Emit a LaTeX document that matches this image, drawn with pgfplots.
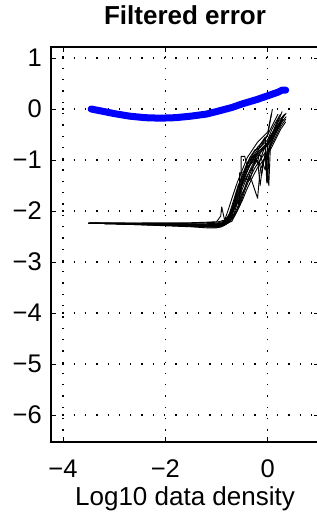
\documentclass[border=0pt]{standalone}
\usepackage{fontspec}
\setmainfont{Liberation Sans}
\usepackage{pgfplots}
\pgfplotsset{compat=1.18}
\begin{document}
\begin{tikzpicture}
\clip (0,0) rectangle (317bp,516bp);
\path[use as bounding box] (0,0) rectangle (317bp,516bp);
\begin{axis}[
  scale only axis,
  width=268bp, height=395bp,
  at={(51bp,74bp)}, anchor=south west,
  xmin=-4.234, xmax=1.0,
  ymin=-6.53, ymax=1.216,
  xtick={-4,-2,0},
  xticklabels={−4,−2,0},
  ytick={-6,-5,-4,-3,-2,-1,0,1},
  yticklabels={−6,−5,−4,−3,−2,−1,0,1},
  tick align=inside,
  major tick length=5bp,
  tick style={black, line width=0.8bp},
  axis line style={black, line width=1.5bp},
  grid=major,
  major grid style={black, line width=1.3bp, dash pattern=on 1.3bp off 10bp},
  ticklabel style={font=\fontsize{25.5bp}{30bp}\selectfont},
  xticklabel style={anchor=base, yshift=-35bp, inner sep=0pt},
  yticklabel style={anchor=east, inner sep=0pt, xshift=-9bp},
  title={\bfseries Filtered error},
  title style={font=\fontsize{26bp}{31bp}\selectfont, at={(0.5,1)}, anchor=base, yshift=17bp},
  xlabel={Log10 data density},
  xlabel style={font=\fontsize{26bp}{31bp}\selectfont, at={(0.5,0)}, anchor=base, yshift=-63bp},
  every axis plot/.append style={line join=round},
]
% black noisy curves
\addplot[black, line width=0.9bp] coordinates {(-3.5,-2.24) (-3,-2.24) (-2.5,-2.25) (-2,-2.26) (-1.5,-2.27) (-1.1,-2.28) (-0.9,-2.25) (-0.78,-2.15) (-0.7,-1.95) (-0.6,-1.6) (-0.5,-1.3) (-0.4,-1.05) (-0.3,-0.9) (-0.2,-0.75) (-0.1,-0.65) (0,-0.5) (0.09,0.0)};
\addplot[black, line width=0.9bp] coordinates {(-3.5,-2.24) (-3,-2.245) (-2.5,-2.26) (-2,-2.27) (-1.5,-2.28) (-1.1,-2.3) (-0.9,-2.27) (-0.75,-2.18) (-0.68,-2.0) (-0.6,-1.75) (-0.5,-1.45) (-0.4,-1.2) (-0.3,-0.95) (-0.2,-0.8) (-0.1,-0.7) (0,-0.6) (0.1,-0.45) (0.2,-0.3) (0.36,-0.08)};
\addplot[black, line width=0.9bp] coordinates {(-3.5,-2.24) (-3,-2.25) (-2.5,-2.25) (-2,-2.27) (-1.5,-2.29) (-1.2,-2.31) (-1.0,-2.32) (-0.85,-2.28) (-0.75,-2.2) (-0.66,-2.05) (-0.58,-1.8) (-0.55,-1.9) (-0.55,-1.25) (-0.45,-1.25) (-0.4,-1.1) (-0.3,-0.95) (-0.2,-0.85) (-0.1,-0.75) (0,-0.65) (0.1,-0.5) (0.3,-0.2)};
\addplot[black, line width=0.9bp] coordinates {(-3.5,-2.24) (-3,-2.235) (-2.5,-2.235) (-2,-2.23) (-1.5,-2.23) (-1.2,-2.22) (-1.0,-2.21) (-0.92,-2.1) (-0.9,-1.92) (-0.85,-2.15) (-0.75,-2.12) (-0.65,-1.9) (-0.55,-1.6) (-0.45,-1.35) (-0.35,-1.1) (-0.25,-0.9) (-0.15,-0.8) (-0.05,-0.75) (-0.02,-1.45) (0.02,-0.8) (0.1,-0.6) (0.2,-0.4) (0.3,-0.2)};
\addplot[black, line width=0.9bp] coordinates {(-3.5,-2.24) (-3,-2.25) (-2.5,-2.27) (-2,-2.28) (-1.5,-2.3) (-1.2,-2.3) (-1.0,-2.29) (-0.85,-2.27) (-0.7,-2.2) (-0.6,-2.0) (-0.5,-1.7) (-0.4,-1.4) (-0.3,-1.15) (-0.2,-0.95) (-0.1,-0.8) (0,-0.65) (0.1,-0.45) (0.2,-0.25) (0.33,-0.1)};
\addplot[black, line width=0.9bp] coordinates {(-3.5,-2.24) (-3,-2.24) (-2.5,-2.24) (-2,-2.25) (-1.5,-2.25) (-1.2,-2.25) (-1.0,-2.24) (-0.85,-2.2) (-0.78,-2.0) (-0.7,-1.75) (-0.6,-1.45) (-0.5,-1.2) (-0.4,-0.95) (-0.3,-0.8) (-0.2,-0.65) (-0.1,-0.55) (0,-0.45) (0.07,-0.1)};
\addplot[black, line width=0.9bp] coordinates {(-3.5,-2.24) (-3,-2.25) (-2.5,-2.26) (-2,-2.28) (-1.5,-2.29) (-1.2,-2.29) (-1.0,-2.27) (-0.85,-2.24) (-0.72,-2.1) (-0.6,-1.6) (-0.5,-1.35) (-0.35,-1.4) (-0.25,-1.0) (-0.15,-0.9) (-0.05,-1.2) (0,-0.7) (0.1,-0.55) (0.25,-0.3)};
\addplot[black, line width=0.9bp] coordinates {(-3.5,-2.24) (-3,-2.24) (-2.5,-2.25) (-2,-2.26) (-1.5,-2.26) (-1.2,-2.27) (-1.0,-2.26) (-0.85,-2.24) (-0.7,-2.1) (-0.62,-1.85) (-0.5,-1.5) (-0.4,-1.3) (-0.3,-1.15) (-0.2,-1.0) (-0.15,-1.5) (-0.1,-1.1) (-0.05,-0.9) (0,-1.45) (0.03,-0.6) (0.12,-0.4) (0.22,-0.15)};
\addplot[black, line width=0.9bp] coordinates {(-3.5,-2.24) (-3,-2.245) (-2.5,-2.25) (-2,-2.27) (-1.5,-2.29) (-1.2,-2.3) (-1.0,-2.3) (-0.85,-2.26) (-0.74,-2.15) (-0.65,-1.95) (-0.55,-1.75) (-0.45,-1.55) (-0.35,-1.3) (-0.25,-1.6) (-0.2,-1.75) (-0.15,-1.2) (-0.05,-0.95) (0.05,-0.7) (0.15,-0.45) (0.3,-0.15)};
\addplot[black, line width=0.9bp] coordinates {(-3.5,-2.24) (-3,-2.24) (-2.5,-2.24) (-2,-2.26) (-1.5,-2.27) (-1.2,-2.28) (-1.0,-2.28) (-0.85,-2.25) (-0.75,-2.15) (-0.65,-1.9) (-0.6,-1.6) (-0.55,-1.7) (-0.45,-1.2) (-0.35,-0.95) (-0.25,-0.8) (-0.15,-0.75) (-0.05,-0.6) (0.05,-0.4) (0.15,-0.2) (0.2,-0.1)};
\addplot[black, line width=0.9bp] coordinates {(-3.5,-2.24) (-3,-2.25) (-2.5,-2.26) (-2,-2.27) (-1.5,-2.28) (-1.2,-2.29) (-1.0,-2.28) (-0.85,-2.25) (-0.72,-2.05) (-0.62,-1.7) (-0.5,-1.4) (-0.4,-1.15) (-0.3,-1.0) (-0.2,-0.85) (-0.12,-1.3) (-0.05,-0.85) (0,-1.0) (0.05,-0.65) (0.15,-0.45) (0.28,-0.25) (0.36,-0.15)};
\addplot[black, line width=0.9bp] coordinates {(-3.5,-2.24) (-3,-2.24) (-2.5,-2.25) (-2,-2.25) (-1.5,-2.26) (-1.2,-2.26) (-1.0,-2.25) (-0.85,-2.22) (-0.75,-2.05) (-0.67,-1.8) (-0.58,-1.5) (-0.48,-1.3) (-0.38,-1.05) (-0.28,-0.9) (-0.18,-1.1) (-0.08,-0.8) (0,-0.7) (0.08,-0.5) (0.18,-0.35) (0.3,-0.15)};
\addplot[black, line width=0.9bp] coordinates {(-3.5,-2.24) (-3,-2.245) (-2.5,-2.26) (-2,-2.28) (-1.5,-2.3) (-1.2,-2.31) (-1.0,-2.31) (-0.85,-2.28) (-0.75,-2.22) (-0.65,-2.1) (-0.55,-1.9) (-0.45,-1.6) (-0.35,-1.35) (-0.25,-1.15) (-0.15,-1.0) (-0.05,-0.85) (0.02,-1.5) (0.05,-0.75) (0.15,-0.55) (0.25,-0.35) (0.35,-0.2)};
\addplot[black, line width=0.9bp] coordinates {(-3.5,-2.24) (-3,-2.24) (-2.5,-2.25) (-2,-2.26) (-1.5,-2.27) (-1.2,-2.28) (-1.0,-2.27) (-0.85,-2.24) (-0.76,-2.12) (-0.68,-1.9) (-0.6,-1.7) (-0.52,-1.5) (-0.42,-1.25) (-0.32,-1.05) (-0.22,-0.9) (-0.12,-0.8) (-0.02,-0.7) (0.08,-0.55) (0.18,-0.3) (0.28,-0.05)};
\addplot[black, line width=0.9bp] coordinates {(-3.5,-2.24) (-3,-2.25) (-2.5,-2.27) (-2,-2.29) (-1.5,-2.31) (-1.2,-2.33) (-1.0,-2.33) (-0.9,-2.31) (-0.8,-2.25) (-0.7,-2.15) (-0.6,-1.95) (-0.52,-1.72) (-0.52,-0.93) (-0.45,-0.93) (-0.4,-1.15) (-0.3,-1.05) (-0.2,-0.9) (-0.1,-0.8) (0,-0.7) (0.1,-0.55) (0.2,-0.35) (0.32,-0.12)};
\addplot[black, line width=0.9bp] coordinates {(-3.5,-2.24) (-3,-2.24) (-2.5,-2.245) (-2,-2.25) (-1.5,-2.24) (-1.2,-2.23) (-1.0,-2.22) (-0.85,-2.18) (-0.75,-2.1) (-0.65,-1.95) (-0.55,-1.7) (-0.45,-1.45) (-0.35,-1.2) (-0.25,-1.0) (-0.15,-0.7) (-0.05,-0.55) (-0.02,-1.3) (0.0,-0.6) (0.08,-0.4) (0.16,-0.25) (0.25,-0.1)};
\addplot[black, line width=0.9bp] coordinates {(-3.5,-2.24) (-3,-2.25) (-2.5,-2.26) (-2,-2.28) (-1.5,-2.29) (-1.2,-2.3) (-1.0,-2.3) (-0.88,-2.28) (-0.78,-2.22) (-0.68,-2.12) (-0.6,-2.0) (-0.5,-1.8) (-0.42,-1.6) (-0.35,-1.45) (-0.28,-1.3) (-0.2,-1.15) (-0.12,-1.05) (-0.05,-0.95) (0.05,-0.8) (0.15,-0.6) (0.25,-0.4) (0.35,-0.25)};
% blue curve
\addplot[blue, line width=7bp, line cap=round, line join=round] coordinates {(-3.45,0.0) (-3.2,-0.05) (-3.0,-0.09) (-2.7,-0.14) (-2.4,-0.17) (-2.1,-0.18) (-1.8,-0.17) (-1.5,-0.14) (-1.2,-0.10) (-1.0,-0.05) (-0.7,0.03) (-0.5,0.10) (-0.2,0.19) (0,0.26) (0.2,0.33) (0.28,0.37) (0.35,0.37)};
\end{axis}
\end{tikzpicture}
\end{document}
